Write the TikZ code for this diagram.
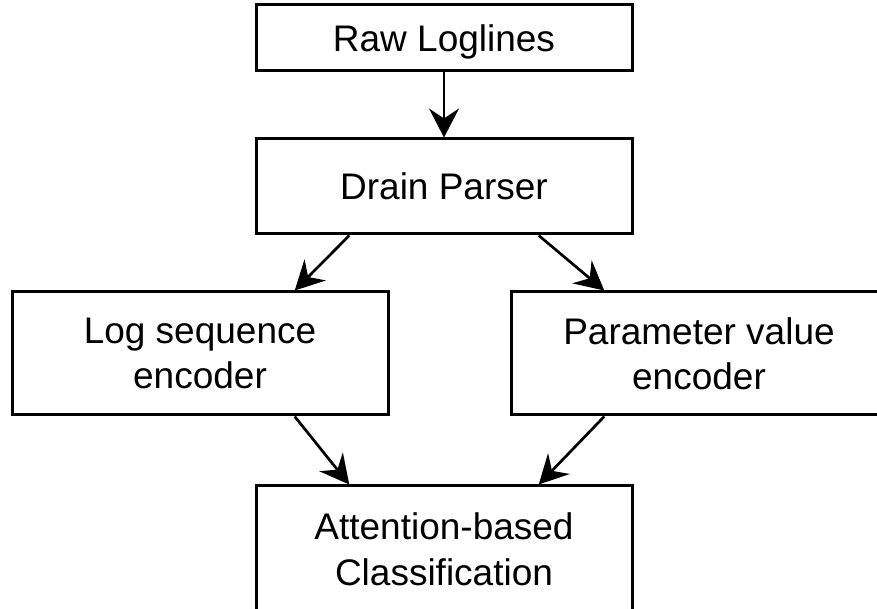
\documentclass[tikz,border=0pt]{standalone}
\usepackage{fontspec}
\setmainfont{Liberation Sans}
\usetikzlibrary{arrows.meta,calc}
\begin{document}
\begin{tikzpicture}[x=1pt,y=1pt,
  box/.style={draw=black, fill=white, line width=3pt, minimum width=376pt,
    align=center, inner sep=0pt, text depth=-2pt, font=\fontsize{37}{45.5}\selectfont},
  flow/.style={line width=2.7pt, -{Stealth[length=29pt,width=30pt,inset=10pt]}}]
\useasboundingbox (0,0) rectangle (877,609);
\clip (0,0) rectangle (877,609);
\fill[white] (0,0) rectangle (877,609);

% pipeline stages
\node[box, minimum height=66pt]  (raw)   at (444,571)   {Raw Loglines};
\node[box, minimum height=95pt]  (drain) at (444,422.5) {Drain Parser};
\node[box, minimum height=123pt] (seq)   at (200,255.5) {Log sequence\\encoder};
\node[box, minimum height=123pt] (param) at (699,255.5) {Parameter value\\encoder};
\node[box, minimum height=126pt] (attn)  at (444,60)    {Attention-based\\Classification};

% data flow
\draw[flow] (raw) -- (drain);
\draw[flow] ($(drain.south west)!0.25!(drain.south east)$) -- ($(seq.north west)!0.75!(seq.north east)$);
\draw[flow] ($(drain.south west)!0.75!(drain.south east)$) -- ($(param.north west)!0.25!(param.north east)$);
\draw[flow] ($(seq.south west)!0.75!(seq.south east)$) -- ($(attn.north west)!0.25!(attn.north east)$);
\draw[flow] ($(param.south west)!0.25!(param.south east)$) -- ($(attn.north west)!0.75!(attn.north east)$);
\end{tikzpicture}
\end{document}
